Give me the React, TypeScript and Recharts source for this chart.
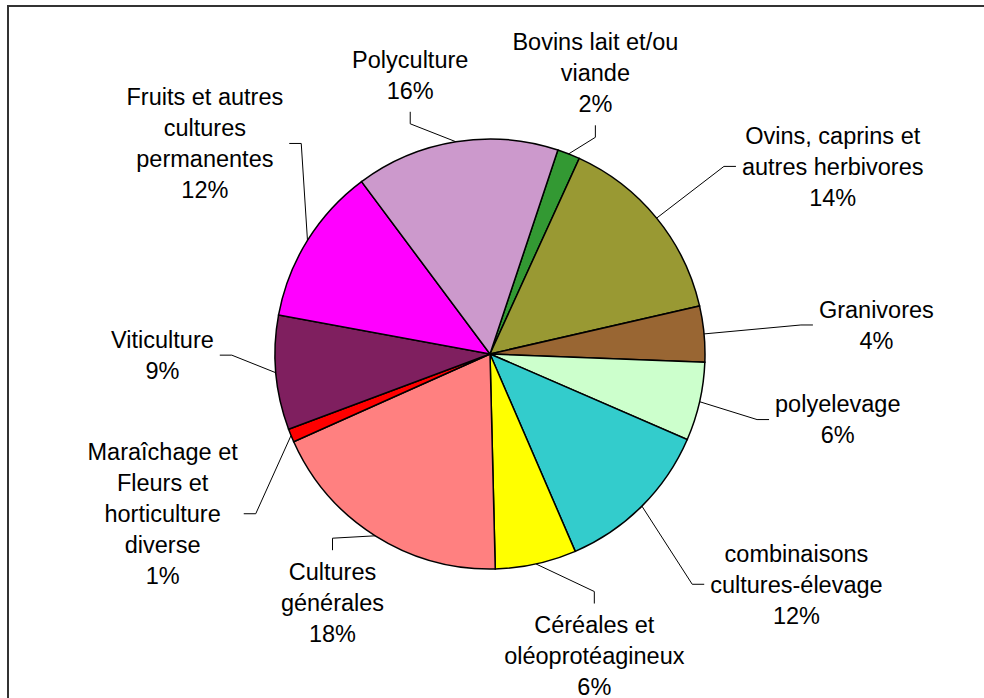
import React from 'react';
import { PieChart, Pie, Cell } from 'recharts';

// categories, clockwise from the Bovins slice
const names = [
  'Bovins lait et/ou\nviande',
  'Ovins, caprins et\nautres herbivores',
  'Granivores',
  'polyelevage',
  'combinaisons\ncultures-élevage',
  'Céréales et\noléoprotéagineux',
  'Cultures\ngénérales',
  'Maraîchage et\nFleurs et\nhorticulture\ndiverse',
  'Viticulture',
  'Fruits et autres\ncultures\npermanentes',
  'Polyculture',
];
const shares = [1.7, 14.6, 4.2, 5.9, 12.0, 6.1, 18.7, 1.0, 8.6, 11.9, 15.3];
const pctLabels = ['2%', '14%', '4%', '6%', '12%', '6%', '18%', '1%', '9%', '12%', '16%'];

const colors = [
  '#339933', '#999933', '#996633', '#CCFFCC', '#33CCCC', '#FFFF00',
  '#FF8080', '#FF0000', '#7F1F5F', '#FF00FF', '#CC99CC',
];

// label layout tweaks (offset from the elliptical default spot)
const labelNudge: [number, number][] = [
  [-30, -2], [56, 2], [18, -1], [-13, -1], [45, 18], [25, 9],
  [40, -5], [15, 46], [41, -25], [29, -52], [-21, 17],
];

const data = names.map((name, i) => ({ name, value: shares[i] }));

const FONT_SIZE = 23.5;
const LINE_H = 31;
const FONT = `${FONT_SIZE}px "Liberation Sans", Arial, sans-serif`;
const RAD = Math.PI / 180;

let ctx: CanvasRenderingContext2D | null = null;
const measure = (s: string) => {
  if (!ctx) ctx = document.createElement('canvas').getContext('2d');
  if (!ctx) return s.length * FONT_SIZE * 0.5;
  ctx.font = FONT;
  return ctx.measureText(s).width;
};

const renderLabel = (props: any) => {
  const { cx, cy, midAngle, outerRadius, index } = props;
  const lines = [...names[index].split('\n'), pctLabels[index]];
  const cos = Math.cos(-midAngle * RAD);
  const sin = Math.sin(-midAngle * RAD);
  // edge point
  const ex = cx + outerRadius * cos;
  const ey = cy + outerRadius * sin;
  // label block centre
  const lx = cx + 370 * cos + labelNudge[index][0];
  const ly = cy + 300 * sin + labelNudge[index][1];
  const w = Math.max(...lines.map(measure));
  const h = lines.length * LINE_H;
  let px: number, py: number, bx: number, by: number;
  if (Math.abs(sin) > 0.8) {
    // above / below
    px = lx;
    if (sin < 0) {
      py = ly + h / 2 + 6;
      by = py + 12;
    } else {
      py = ly - h / 2 - 6;
      by = py - 12;
    }
    bx = px;
  } else {
    py = ly;
    if (cos > 0) {
      px = lx - w / 2 - 6;
      bx = px - 12;
    } else {
      px = lx + w / 2 + 6;
      bx = px + 12;
    }
    by = py;
  }
  const y0 = ly - ((lines.length - 1) * LINE_H) / 2;
  return (
    <g key={`lbl-${index}`}>
      <polyline
        points={`${ex},${ey} ${bx},${by} ${px},${py}`}
        fill="none"
        stroke="#000"
        strokeWidth={1}
      />
      <text
        x={lx}
        y={y0}
        textAnchor="middle"
        fill="#000"
        style={{ font: FONT }}
      >
        {lines.map((t, i) => (
          <tspan key={i} x={lx} y={y0 + i * LINE_H} dy="0.35em">
            {t}
          </tspan>
        ))}
      </text>
    </g>
  );
};

export default function App() {
  return (
    <div style={{ position: 'fixed', left: 0, top: 0, width: 984, height: 698, overflow: 'hidden', background: '#fff' }}>
      <div
        style={{
          position: 'absolute',
          left: 7,
          top: 5,
          width: 1100,
          height: 800,
          borderTop: '2px solid #333',
          borderLeft: '2px solid #333',
        }}
      />
      <div style={{ position: 'absolute', left: 0, top: 0 }}>
        <PieChart width={984} height={698} margin={{ top: 0, right: 0, bottom: 0, left: 0 }}>
          <Pie
            data={data}
            dataKey="value"
            nameKey="name"
            cx={490}
            cy={354}
            outerRadius={215}
            startAngle={71.6}
            endAngle={-288.4}
            stroke="#000"
            strokeWidth={1.5}
            label={renderLabel}
            labelLine={false}
            isAnimationActive={false}
          >
            {data.map((d, i) => (
              <Cell key={d.name} fill={colors[i]} />
            ))}
          </Pie>
        </PieChart>
      </div>
    </div>
  );
}
